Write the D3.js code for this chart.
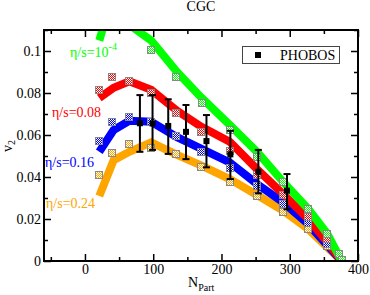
<!DOCTYPE html>
<html>
<head>
<meta charset="utf-8">
<script src="https://cdn.jsdelivr.net/npm/d3@7"></script>
<style>
  body { margin: 0; background: #fff; }
  text { font-family: "Liberation Serif", "DejaVu Serif", serif; }
</style>
</head>
<body>
<svg width="370" height="295"></svg>
<script>
// curve vertices (hydro results), N_part
var curveN = [21, 42, 65, 97, 135, 170, 212, 252, 290, 327, 355, 376];
var green = [0.105, 0.128, 0.1125, 0.105, 0.090, 0.078, 0.0648, 0.052, 0.0378, 0.0248, 0.013, 0];
var red = [0.0776, 0.0825, 0.0856, 0.0815, 0.0715, 0.064, 0.0568, 0.0438, 0.032, 0.020, 0.009, 0];
var blue = [0.052, 0.0624, 0.0668, 0.0663, 0.059, 0.0535, 0.047, 0.0367, 0.028, 0.0176, 0.0075, 0];
var orange = [0.031, 0.048, 0.052, 0.0565, 0.0505, 0.0455, 0.039, 0.0314, 0.024, 0.0152, 0.0065, 0];

// checkered squares
var markN = [20, 40, 65, 97, 133, 170, 212, 252, 290, 327, 355];
var greenMarkN = [97, 133, 171, 212, 252, 290, 327, 355, 372, 377];
var greenMarks = [0.1005, 0.0878, 0.0751, 0.0624, 0.0495, 0.0376, 0.0248, 0.0129, 0.0033, 0.0005];
var redMarks = [0.0813, 0.0875, 0.0857, 0.0798, 0.0705, 0.0613, 0.0525, 0.041, 0.0314, 0.0211, 0.0103];
var blueMarks = [0.0572, 0.0664, 0.0684, 0.066, 0.0597, 0.052, 0.0441, 0.0357, 0.0271, 0.018, 0.0081];
var orangeMarks = [0.041, 0.0513, 0.0556, 0.0537, 0.0508, 0.0449, 0.0378, 0.031, 0.0232, 0.0151, 0.0073];

// PHOBOS data
var phobosN = [80.5, 99, 122, 148, 178, 213, 254, 296];
var phobosV2 = [0.0656, 0.0655, 0.0643, 0.0615, 0.0571, 0.0508, 0.0425, 0.0335];
var phobosLo = [0.052, 0.0529, 0.051, 0.0485, 0.0446, 0.039, 0.0322, 0.0246];
var phobosHi = [0.079, 0.079, 0.077, 0.0743, 0.0695, 0.062, 0.0529, 0.0414];

var xMajor = [0, 100, 200, 300, 400];
var xMinor = [-50, 50, 150, 250, 350];
var yMajor = [0, 0.02, 0.04, 0.06, 0.08, 0.1];
var yMinor = [0.01, 0.03, 0.05, 0.07, 0.09, 0.11];

var svg = d3.select('svg');
var pLeft = 44, pRight = 358, pTop = 30, pBottom = 261;

var x = d3.scaleLinear().domain([-60, 400]).range([pLeft, pRight]);
var y = d3.scaleLinear().domain([0, 0.11]).range([pBottom, pTop]);

var defs = svg.append('defs');
defs.append('clipPath').attr('id', 'clip')
  .append('rect').attr('x', pLeft).attr('y', pTop).attr('width', pRight - pLeft).attr('height', pBottom - pTop);

var colors = {green: '#00ff00', red: '#ff0000', blue: '#0000ff', orange: '#ffa500'};

var plot = svg.append('g').attr('clip-path', 'url(#clip)');

var line = d3.line()
  .x(function(d) { return x(d[0]); })
  .y(function(d) { return y(d[1]); });

var curves = [['green', green], ['red', red], ['blue', blue], ['orange', orange]];
curves.slice().reverse().forEach(function(c) {
  plot.append('path')
    .datum(d3.zip(curveN, c[1]))
    .attr('d', line)
    .attr('fill', 'none')
    .attr('stroke', colors[c[0]])
    .attr('stroke-width', 8);
});

// white dots inside each square give the checkered look
var dots = [];
for (var i = -3; i < 3; i++) {
  for (var j = -3; j < 3; j++) {
    if ((i + j) % 2 === 0) dots.push([i, j]);
  }
}

var marks = [
  ['orange', markN, orangeMarks],
  ['blue', markN, blueMarks],
  ['red', markN, redMarks],
  ['green', greenMarkN, greenMarks]
];
marks.forEach(function(m) {
  var g = plot.selectAll(null)
    .data(d3.zip(m[1], m[2]))
    .enter()
    .append('g')
      .attr('transform', function(d) {
        return 'translate(' + Math.round(x(d[0])) + ',' + Math.round(y(d[1])) + ')';
      });
  g.append('rect')
    .attr('x', -3.5).attr('y', -3.5).attr('width', 7).attr('height', 7)
    .attr('fill', colors[m[0]])
    .attr('stroke', '#888')
    .attr('stroke-width', 1);
  g.selectAll(null).data(dots).enter().append('rect')
    .attr('x', function(d) { return d[0]; })
    .attr('y', function(d) { return d[1]; })
    .attr('width', 1).attr('height', 1)
    .attr('fill', '#fff')
    .attr('shape-rendering', 'crispEdges');
});

// PHOBOS error bars
var phobos = phobosN.map(function(n, i) {
  return {n: n, v: phobosV2[i], lo: phobosLo[i], hi: phobosHi[i]};
});
var eb = plot.selectAll('g.eb').data(phobos).enter().append('g');
eb.append('line')
  .attr('x1', function(d) { return x(d.n); }).attr('x2', function(d) { return x(d.n); })
  .attr('y1', function(d) { return y(d.lo); }).attr('y2', function(d) { return y(d.hi); })
  .attr('stroke', '#000').attr('stroke-width', 2);
['lo', 'hi'].forEach(function(k) {
  eb.append('line')
    .attr('x1', function(d) { return x(d.n) - 3.5; }).attr('x2', function(d) { return x(d.n) + 3.5; })
    .attr('y1', function(d) { return y(d[k]); }).attr('y2', function(d) { return y(d[k]); })
    .attr('stroke', '#000').attr('stroke-width', 2);
});
eb.append('rect')
  .attr('x', function(d) { return x(d.n) - 3; })
  .attr('y', function(d) { return y(d.v) - 3; })
  .attr('width', 6).attr('height', 6).attr('fill', '#000');

// axes, ticks inside on all four sides
function tickFmt(d) { return d === 0 ? '0' : String(+d.toFixed(2)); }
function addAxis(axisFn, scale, pos, vals, size, labels) {
  var a = axisFn(scale).tickValues(vals).tickSizeInner(-size).tickSizeOuter(0).tickPadding(3);
  if (labels) a.tickFormat(labels); else a.tickFormat('');
  var g = svg.append('g').attr('transform', pos).call(a);
  g.select('.domain').remove();
  g.selectAll('line').attr('stroke', '#000').attr('stroke-width', 1.5);
  g.selectAll('text').attr('font-size', 14).attr('fill', '#000')
    .style('font-family', '"Liberation Serif", serif');
  return g;
}
addAxis(d3.axisBottom, x, 'translate(0,' + pBottom + ')', xMajor, 7, function(d) { return d; });
addAxis(d3.axisBottom, x, 'translate(0,' + pBottom + ')', xMinor, 4);
addAxis(d3.axisTop, x, 'translate(0,' + pTop + ')', xMajor, 7);
addAxis(d3.axisTop, x, 'translate(0,' + pTop + ')', xMinor, 4);
addAxis(d3.axisLeft, y, 'translate(' + pLeft + ',0)', yMajor, 7, tickFmt);
addAxis(d3.axisLeft, y, 'translate(' + pLeft + ',0)', yMinor, 4);
addAxis(d3.axisRight, y, 'translate(' + pRight + ',0)', yMajor, 7);
addAxis(d3.axisRight, y, 'translate(' + pRight + ',0)', yMinor, 4);

svg.append('rect')
  .attr('x', pLeft).attr('y', pTop).attr('width', pRight - pLeft).attr('height', pBottom - pTop)
  .attr('fill', 'none').attr('stroke', '#000').attr('stroke-width', 2);

// title and axis labels
svg.append('text').attr('x', 201).attr('y', 11).attr('text-anchor', 'middle')
  .attr('font-size', 14).text('CGC');

var xl = svg.append('text').attr('x', 188).attr('y', 287).attr('font-size', 14);
xl.append('tspan').text('N');
xl.append('tspan').attr('font-size', 10).attr('dy', 4).text('Part');

var yl = svg.append('text').attr('transform', 'translate(12,152) rotate(-90)').attr('font-size', 14);
yl.append('tspan').text('v');
yl.append('tspan').attr('font-size', 10).attr('dy', 3).text('2');

// curve labels
var g1 = svg.append('text').attr('x', 70).attr('y', 57).attr('font-size', 14).attr('fill', colors.green);
g1.append('tspan').text('η/s=10');
g1.append('tspan').attr('font-size', 10).attr('dy', -7).text('-4');
svg.append('text').attr('x', 52).attr('y', 117).attr('font-size', 14).attr('fill', colors.red).text('η/s=0.08');
svg.append('text').attr('x', 45).attr('y', 167).attr('font-size', 14).attr('fill', colors.blue).text('η/s=0.16');
svg.append('text').attr('x', 46).attr('y', 208).attr('font-size', 14).attr('fill', colors.orange).text('η/s=0.24');

// legend
svg.append('rect').attr('x', 242.5).attr('y', 46.5).attr('width', 97).attr('height', 17)
  .attr('fill', '#fff').attr('stroke', '#444').attr('stroke-width', 1);
svg.append('rect').attr('x', 255).attr('y', 52).attr('width', 6).attr('height', 6).attr('fill', '#000');
svg.append('text').attr('x', 280).attr('y', 60).attr('font-size', 14).text('PHOBOS');
</script>
</body>
</html>
